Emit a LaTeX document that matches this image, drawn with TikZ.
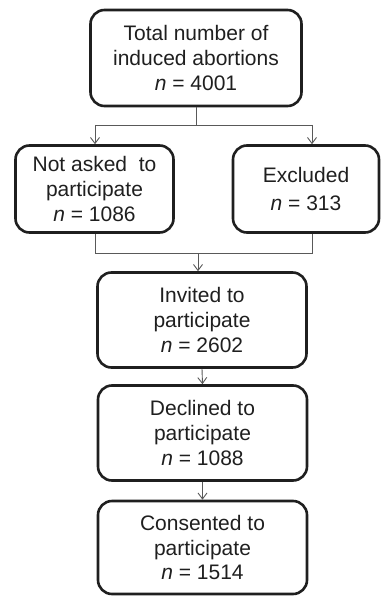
\documentclass[tikz,border=0pt]{standalone}
\usepackage{fontspec}
\setmainfont{Liberation Sans}
\usetikzlibrary{arrows.meta}
\begin{document}
\begin{tikzpicture}[x=1pt,y=-1pt,
  box/.style={draw=black!88, line width=2.6pt, rounded corners=14pt, align=center,
    inner sep=0pt, font=\fontsize{21}{24.8}\selectfont, text=black!88},
  conn/.style={draw=black!65, line width=0.9pt},
  arr/.style={conn, -{Straight Barb[length=6pt,width=9pt,line width=0.9pt]}}]
\useasboundingbox (0,0) rectangle (381,596);
\node[box, minimum width=211pt, minimum height=96pt] (top) at (196,58)
  {Total number of\\induced abortions\\\textit{n} = 4001};
\node[box, minimum width=158pt, minimum height=87pt] (left) at (94.5,189)
  {Not asked\ \ to\\participate\\\textit{n} = 1086};
\node[box, minimum width=146pt, minimum height=87pt] (right) at (306,189)
  {Excluded\\[4pt]\textit{n} = 313};
\node[box, minimum width=209pt, minimum height=95pt] (inv) at (202,320)
  {Invited to\\participate\\\textit{n} = 2602};
\node[box, minimum width=209pt, minimum height=95pt] (dec) at (202.5,433)
  {Declined to\\participate\\\textit{n} = 1088};
\node[box, minimum width=209pt, minimum height=93pt] (con) at (202.5,547.5)
  {Consented to\\participate\\\textit{n} = 1514};
\coordinate (split) at (196,125);
\coordinate (sl) at (95,125);
\coordinate (sr) at (312,125);
\coordinate (ml) at (95,253);
\coordinate (mr) at (312,253);
\coordinate (mm) at (198,253);
\draw[conn] (top.south) -- (split);
\draw[conn] (sl) -- (sr);
\draw[arr] (sl) -- (sl |- left.north);
\draw[arr] (sr) -- (sr |- right.north);
\draw[conn] (ml |- left.south) -- (ml) -- (mr) -- (mr |- right.south);
\draw[arr] (mm) -- (mm |- inv.north);
\draw[arr] (inv.south) -- (dec.north);
\draw[arr] (dec.south) -- (con.north);
\end{tikzpicture}
\end{document}
